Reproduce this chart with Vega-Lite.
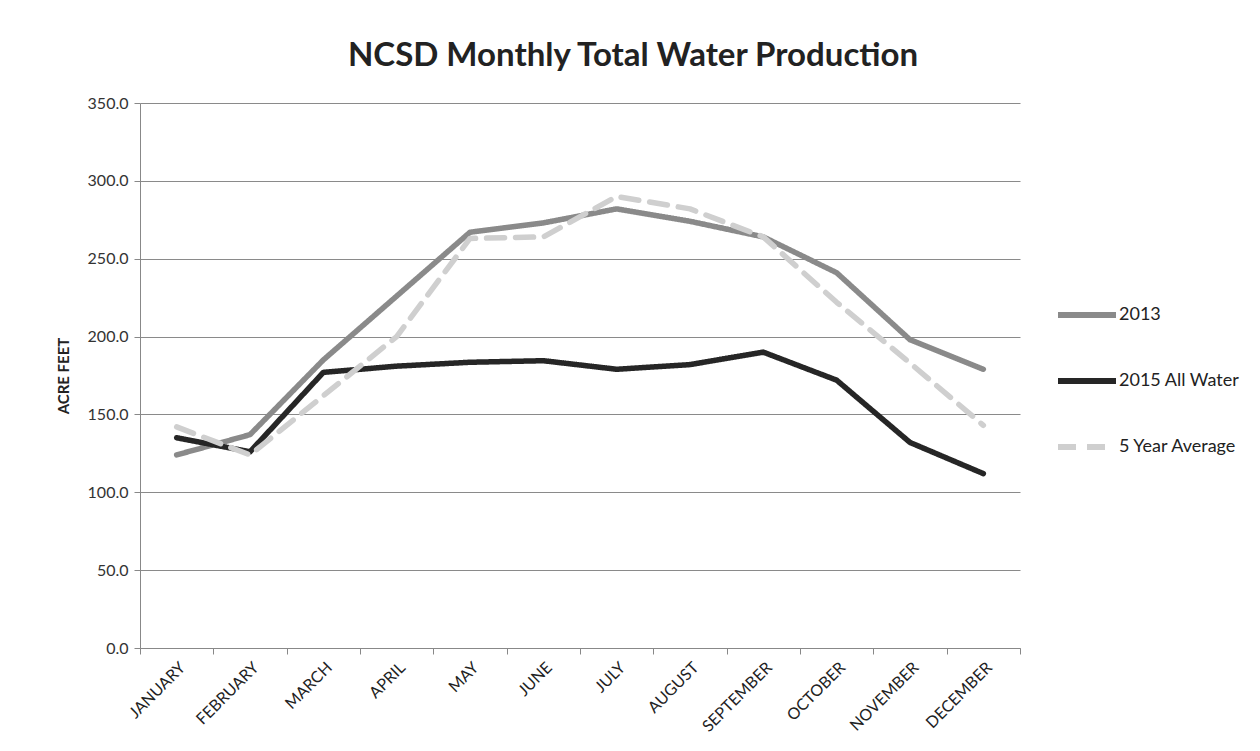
{
  "$schema": "https://vega.github.io/schema/vega-lite/v6.json",
  "autosize": {"type": "none"},
  "width": 880,
  "height": 545,
  "padding": {"left": 140, "top": 103, "right": 240, "bottom": 103},
  "background": "white",
  "title": {
    "text": "NCSD Monthly Total Water Production",
    "font": "Lato",
    "fontSize": 33,
    "fontWeight": "bold",
    "color": "#222222",
    "anchor": "middle",
    "dx": 53,
    "offset": 22
  },
  "data": {
    "values": [
      {"month": "JANUARY", "series": "2013", "value": 124},
      {"month": "FEBRUARY", "series": "2013", "value": 137},
      {"month": "MARCH", "series": "2013", "value": 185},
      {"month": "APRIL", "series": "2013", "value": 226},
      {"month": "MAY", "series": "2013", "value": 267},
      {"month": "JUNE", "series": "2013", "value": 273},
      {"month": "JULY", "series": "2013", "value": 282},
      {"month": "AUGUST", "series": "2013", "value": 274},
      {"month": "SEPTEMBER", "series": "2013", "value": 264},
      {"month": "OCTOBER", "series": "2013", "value": 241},
      {"month": "NOVEMBER", "series": "2013", "value": 198},
      {"month": "DECEMBER", "series": "2013", "value": 179},
      {"month": "JANUARY", "series": "2015 All Water", "value": 135},
      {"month": "FEBRUARY", "series": "2015 All Water", "value": 126},
      {"month": "MARCH", "series": "2015 All Water", "value": 177},
      {"month": "APRIL", "series": "2015 All Water", "value": 181},
      {"month": "MAY", "series": "2015 All Water", "value": 183.5},
      {"month": "JUNE", "series": "2015 All Water", "value": 184.5},
      {"month": "JULY", "series": "2015 All Water", "value": 179},
      {"month": "AUGUST", "series": "2015 All Water", "value": 182},
      {"month": "SEPTEMBER", "series": "2015 All Water", "value": 190},
      {"month": "OCTOBER", "series": "2015 All Water", "value": 172},
      {"month": "NOVEMBER", "series": "2015 All Water", "value": 132},
      {"month": "DECEMBER", "series": "2015 All Water", "value": 112},
      {"month": "JANUARY", "series": "5 Year Average", "value": 142},
      {"month": "FEBRUARY", "series": "5 Year Average", "value": 124},
      {"month": "MARCH", "series": "5 Year Average", "value": 162},
      {"month": "APRIL", "series": "5 Year Average", "value": 200},
      {"month": "MAY", "series": "5 Year Average", "value": 263},
      {"month": "JUNE", "series": "5 Year Average", "value": 264},
      {"month": "JULY", "series": "5 Year Average", "value": 290},
      {"month": "AUGUST", "series": "5 Year Average", "value": 282},
      {"month": "SEPTEMBER", "series": "5 Year Average", "value": 264},
      {"month": "OCTOBER", "series": "5 Year Average", "value": 222},
      {"month": "NOVEMBER", "series": "5 Year Average", "value": 183},
      {"month": "DECEMBER", "series": "5 Year Average", "value": 143}
    ]
  },
  "mark": {"type": "line", "strokeWidth": 5.5, "strokeCap": "round", "strokeJoin": "round"},
  "encoding": {
    "x": {
      "field": "month",
      "type": "ordinal",
      "sort": ["JANUARY","FEBRUARY","MARCH","APRIL","MAY","JUNE","JULY","AUGUST","SEPTEMBER","OCTOBER","NOVEMBER","DECEMBER"],
      "scale": {"type": "band", "paddingInner": 0, "paddingOuter": 0},
      "bandPosition": 0.5,
      "axis": {
        "title": null,
        "labelAngle": -45,
        "labelFont": "Lato",
        "labelFontSize": 16,
        "labelColor": "#222222",
        "labelPadding": 5,
        "tickBand": "extent",
        "ticks": true,
        "tickSize": 6,
        "tickColor": "#888888",
        "domainColor": "#888888",
        "grid": false
      }
    },
    "y": {
      "field": "value",
      "type": "quantitative",
      "scale": {"domain": [0, 350], "nice": false},
      "axis": {
        "title": "ACRE FEET",
        "titleFont": "Lato",
        "titleFontSize": 15,
        "titleFontWeight": "bold",
        "titleColor": "#222222",
        "titlePadding": 16,
        "values": [0, 50, 100, 150, 200, 250, 300, 350],
        "format": ".1f",
        "labelFont": "Lato",
        "labelFontSize": 16,
        "labelColor": "#333333",
        "labelPadding": 6,
        "tickSize": 6,
        "tickColor": "#888888",
        "domainColor": "#888888",
        "grid": true,
        "gridColor": "#8a8a8a",
        "gridWidth": 1.2
      }
    },
    "color": {
      "field": "series",
      "type": "nominal",
      "scale": {"domain": ["2013", "2015 All Water", "5 Year Average"], "range": ["#8a8a8a", "#262626", "#cfcfcf"]},
      "legend": {
        "title": null,
        "orient": "none",
        "legendX": 915,
        "legendY": 180,
        "symbolType": "stroke",
        "symbolSize": 3364,
        "symbolStrokeWidth": 6,
        "labelFont": "Lato",
        "labelFontSize": 18,
        "labelColor": "#222222",
        "labelOffset": 0,
        "rowPadding": 22
      }
    },
    "strokeDash": {
      "field": "series",
      "type": "nominal",
      "scale": {"domain": ["2013", "2015 All Water", "5 Year Average"], "range": [[1, 0], [1, 0], [18, 11]]},
      "legend": null
    }
  },
  "config": {
    "view": {"stroke": null}
  }
}
